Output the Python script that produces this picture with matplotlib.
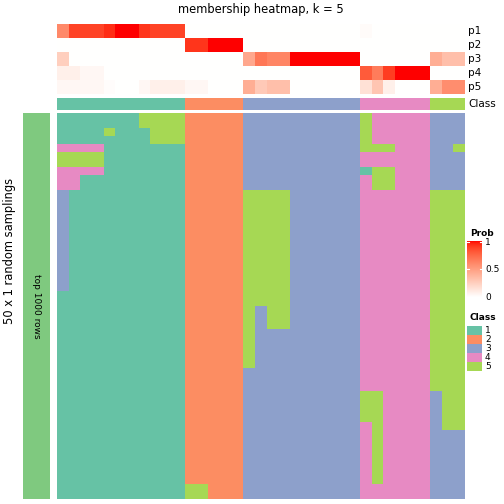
import numpy as np
import matplotlib
matplotlib.use("Agg")
import matplotlib.pyplot as plt
from matplotlib.colors import ListedColormap

# Probabilidades de pertenencia (filas de anotacion superior), 35 muestras
p1 = [0.60, 0.88, 0.88, 0.88, 0.94, 1.00, 1.00, 0.92, 0.88, 0.88, 0.88,
      0, 0, 0, 0, 0,
      0, 0, 0, 0, 0, 0, 0, 0, 0, 0,
      0.02, 0, 0, 0, 0, 0,
      0, 0, 0]
p2 = [0, 0, 0, 0, 0, 0, 0, 0, 0, 0, 0,
      0.92, 0.92, 1.00, 1.00, 1.00,
      0, 0, 0, 0, 0, 0, 0, 0, 0, 0,
      0, 0, 0, 0, 0, 0,
      0, 0, 0]
p3 = [0.25, 0, 0, 0, 0, 0, 0, 0, 0, 0, 0,
      0, 0, 0, 0, 0,
      0.45, 0.68, 0.62, 0.62, 1.00, 1.00, 1.00, 1.00, 1.00, 1.00,
      0, 0, 0, 0, 0, 0,
      0.42, 0.33, 0.33]
p4 = [0.08, 0.08, 0.04, 0.04, 0, 0, 0, 0, 0, 0, 0,
      0, 0, 0, 0, 0,
      0, 0, 0, 0, 0, 0, 0, 0, 0, 0,
      0.80, 0.66, 0.90, 1.00, 1.00, 1.00,
      0, 0, 0]
p5 = [0.04, 0.04, 0.04, 0.04, 0.015, 0, 0, 0.04, 0.08, 0.08, 0.08,
      0.04, 0.04, 0, 0, 0,
      0.42, 0.28, 0.33, 0.33, 0, 0, 0, 0, 0, 0,
      0.16, 0.30, 0.08, 0, 0, 0,
      0.42, 0.58, 0.58]
prob_labels = ["p1", "p2", "p3", "p4", "p5"]

# Clase asignada a cada muestra
clase = [1] * 11 + [2] * 5 + [3] * 10 + [4] * 6 + [5] * 3

# Clase en cada uno de los 50 muestreos (una cadena por fila, 35 columnas)
muestreos = [
    "11111115555222223333333333544444333",
    "11111115555222223333333333544444333",
    "11115111555222223333333333544444333",
    "11111111555222223333333333544444333",
    "44441111111222223333333333555444335",
    "55551111111222223333333333444444333",
    "55551111111222223333333333444444333",
    "44441111111222223333333333155444333",
    "44111111111222223333333333455444333",
    "44111111111222223333333333455444333",
    "31111111111222225555333333444444555",
    "31111111111222225555333333444444555",
    "31111111111222225555333333444444555",
    "31111111111222225555333333444444555",
    "31111111111222225555333333444444555",
    "31111111111222225555333333444444555",
    "31111111111222225555333333444444555",
    "31111111111222225555333333444444555",
    "31111111111222225555333333444444555",
    "31111111111222225555333333444444555",
    "31111111111222225555333333444444555",
    "31111111111222225555333333444444555",
    "31111111111222225555333333444444555",
    "11111111111222225555333333444444555",
    "11111111111222225555333333444444555",
    "11111111111222225355333333444444555",
    "11111111111222225355333333444444555",
    "11111111111222225355333333444444555",
    "11111111111222225333333333444444555",
    "11111111111222225333333333444444555",
    "11111111111222225333333333444444555",
    "11111111111222225333333333444444555",
    "11111111111222225333333333444444555",
    "11111111111222223333333333444444555",
    "11111111111222223333333333444444555",
    "11111111111222223333333333444444555",
    "11111111111222223333333333554444355",
    "11111111111222223333333333554444355",
    "11111111111222223333333333554444355",
    "11111111111222223333333333554444355",
    "11111111111222223333333333454444355",
    "11111111111222223333333333454444333",
    "11111111111222223333333333454444333",
    "11111111111222223333333333454444333",
    "11111111111222223333333333454444333",
    "11111111111222223333333333454444333",
    "11111111111222223333333333454444333",
    "11111111111222223333333333454444333",
    "11111111111552223333333333444444333",
    "11111111111552223333333333444444333",
]

colores_clase = ["#66C2A5", "#FC8D62", "#8DA0CB", "#E78AC3", "#A6D854"]
color_filas = "#7FC97F"


# Rampa blanco -> rojo interpolada en espacio LAB (como colorRamp2)
def lab_a_rgb(L, a, b):
    fy = (L + 16) / 116
    fx = fy + a / 500
    fz = fy - b / 200
    def finv(t):
        return np.where(t > 6 / 29, t ** 3, 3 * (6 / 29) ** 2 * (t - 4 / 29))
    X = 0.95047 * finv(fx)
    Y = 1.0 * finv(fy)
    Z = 1.08883 * finv(fz)
    r = 3.2406 * X - 1.5372 * Y - 0.4986 * Z
    g = -0.9689 * X + 1.8758 * Y + 0.0415 * Z
    bb = 0.0557 * X - 0.2040 * Y + 1.0570 * Z
    rgb = np.stack([r, g, bb], axis=-1)
    rgb = np.where(rgb <= 0.0031308, 12.92 * rgb, 1.055 * np.abs(rgb) ** (1 / 2.4) - 0.055)
    return np.clip(rgb, 0, 1)

t = np.linspace(0, 1, 256)
rampa = lab_a_rgb(100 + (53.24 - 100) * t, 80.09 * t, 67.20 * t)
cmap_prob = ListedColormap(rampa)
cmap_clase = ListedColormap(colores_clase)

W = 504.0
fig = plt.figure(figsize=(5.04, 5.04), dpi=100)


def ejes(x0, y0, x1, y1):
    # coordenadas en pixeles (origen arriba a la izquierda)
    ax = fig.add_axes([x0 / W, 1 - y1 / W, (x1 - x0) / W, (y1 - y0) / W])
    ax.set_axis_off()
    return ax


# Anotacion de probabilidades
ax_p = ejes(57, 24, 465, 94)
ax_p.imshow(np.array([p1, p2, p3, p4, p5]), cmap=cmap_prob, vmin=0, vmax=1,
            aspect="auto", interpolation="nearest")

# Anotacion de clase
ax_c = ejes(57, 98, 465, 110)
ax_c.imshow(np.array([clase]), cmap=cmap_clase, vmin=0.5, vmax=5.5,
            aspect="auto", interpolation="nearest")

# Heatmap principal
matriz = np.array([[int(c) for c in fila] for fila in muestreos])
ax_m = ejes(57, 113, 465, 499)
ax_m.imshow(matriz, cmap=cmap_clase, vmin=0.5, vmax=5.5,
            aspect="auto", interpolation="nearest")

# Barra lateral izquierda
ax_l = ejes(23, 113, 50, 499)
ax_l.imshow(np.zeros((1, 1)), cmap=ListedColormap([color_filas]),
            aspect="auto", interpolation="nearest")
ax_l.text(0.5, 0.5, "top 1000 rows", rotation=270, ha="center", va="center",
          fontsize=6.5, transform=ax_l.transAxes)

# Textos
fs = 7.5
fig.text(261 / W, 1 - 10 / W, "membership heatmap, k = 5", ha="center",
         va="center", fontsize=8.3)
fig.text(10 / W, 1 - 251 / W, "50 x 1 random samplings", rotation=90,
         ha="center", va="center", fontsize=8.3)
for i, nombre in enumerate(prob_labels):
    fig.text(468 / W, 1 - (31 + 14 * i) / W, nombre, ha="left", va="center",
             fontsize=fs)
fig.text(468 / W, 1 - 104 / W, "Class", ha="left", va="center", fontsize=fs)

# Leyenda de probabilidad
fig.text(470 / W, 1 - 233 / W, "Prob", ha="left", va="center",
         fontsize=6.5, fontweight="bold")
ax_cb = ejes(467, 241, 482, 297)
ax_cb.imshow(t[::-1].reshape(-1, 1), cmap=cmap_prob, vmin=0, vmax=1,
             aspect="auto", interpolation="bilinear", extent=(0, 1, 0, 1))
ax_cb.set_xlim(0, 1)
ax_cb.set_ylim(0, 1)
for v in [0.5, 1.0]:
    yv = min(v, 0.985)
    ax_cb.plot([0, 0.15], [yv, yv], color="white", lw=0.8)
    ax_cb.plot([0.85, 1], [yv, yv], color="white", lw=0.8)
for v, txt in [(1, "1"), (0.5, "0.5"), (0, "0")]:
    y = 297 - v * 56
    fig.text(485 / W, 1 - (y + 1) / W, txt, ha="left", va="center", fontsize=6.5)

# Leyenda de clases
fig.text(470 / W, 1 - 317 / W, "Class", ha="left", va="center",
         fontsize=6.5, fontweight="bold")
ax_lc = ejes(467, 326, 482, 371)
ax_lc.imshow(np.arange(1, 6).reshape(-1, 1), cmap=cmap_clase, vmin=0.5, vmax=5.5,
             aspect="auto", interpolation="nearest")
for k in range(5):
    fig.text(485 / W, 1 - (330.5 + 9 * k) / W, str(k + 1), ha="left",
             va="center", fontsize=6.5)

fig.savefig("out.png", dpi=100)
